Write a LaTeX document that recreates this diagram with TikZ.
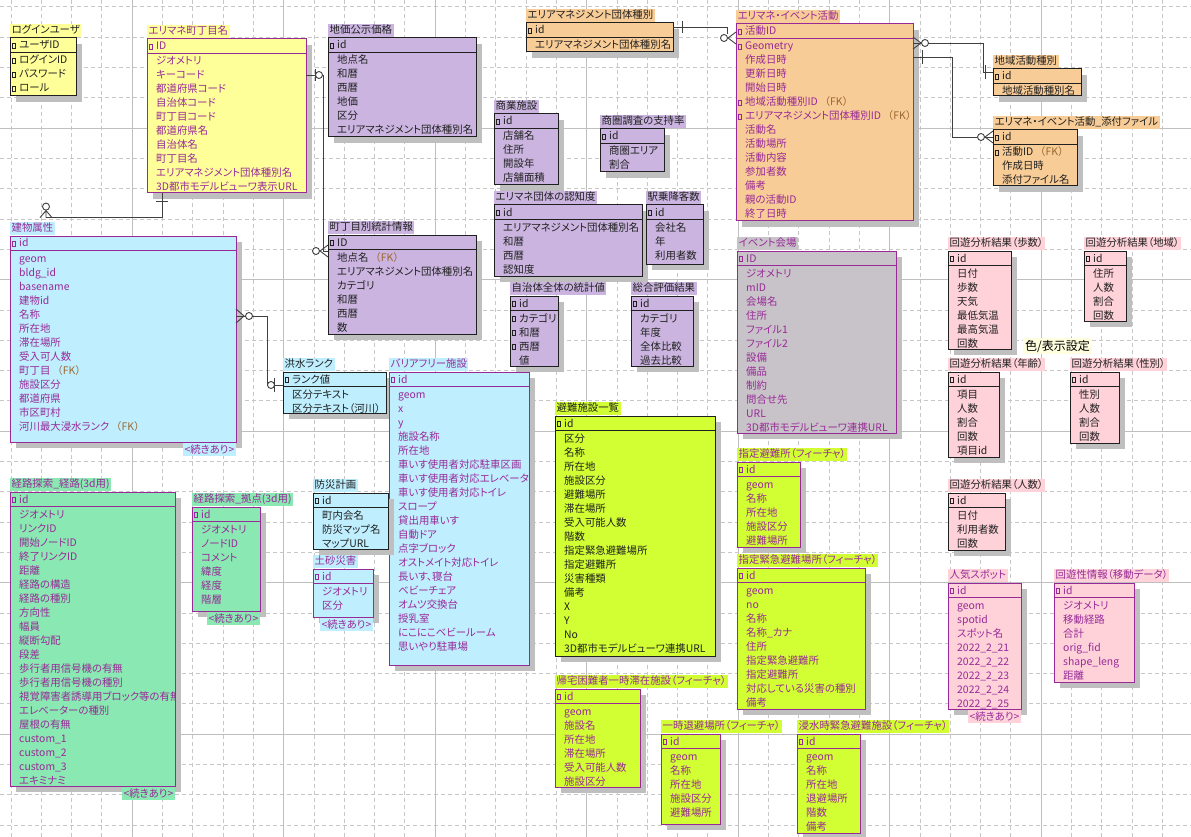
\documentclass[tikz,border=0pt]{standalone}
\usepackage{fontspec}
\setmainfont{Noto Sans CJK JP}[RawFeature=+palt]
\newfontfamily\jpfull{Noto Sans CJK JP}
\usetikzlibrary{calc,shadows}

\definecolor{eryellow}{HTML}{FFFF99}
\definecolor{erlav}{HTML}{CBB5E0}
\definecolor{erorange}{HTML}{F8CC96}
\definecolor{erblue}{HTML}{BFEFFF}
\definecolor{ergreen}{HTML}{8AE8B2}
\definecolor{erlime}{HTML}{D2FF33}
\definecolor{erpink}{HTML}{FFD2DA}
\definecolor{ergrey}{HTML}{C8C3C8}
\definecolor{erpurple}{HTML}{982A98}
\definecolor{erink}{HTML}{202020}
\definecolor{fkbrown}{HTML}{99662E}
\definecolor{notebg}{HTML}{FFFFE0}

\newcommand{\erfont}{\fontsize{10.4}{12}\selectfont}
\newcommand{\fk}{\hspace{2pt}{\jpfull\textcolor{fkbrown}{（FK）}}}

\newcommand{\erent}[9]{%
  \pgfmathsetmacro\erw{#4-#2}%
  \pgfmathsetmacro\erh{#5-#3}%
  \node[erbox, fill=#6, draw=#7, minimum width=\erw pt, minimum height=\erh pt] (#1) at (#2,#3) {};
  \draw[#7, line width=0.9pt] ($(#1.north west)+(0,14)$) -- ($(#1.north east)+(0,14)$);
  \begin{scope}
    \clip (#1.north west) rectangle (#1.south east);
    \foreach \k/\t [count=\i from 0] in {#9}{
      \pgfmathsetmacro\ry{\i==0 ? 11 : 12+14*\i}
      \node[ertext, text=#7] (#1-\i) at ($(#1.north west)+(9,\ry)$) {\t};
      \if\k k\draw[#7, line width=0.6pt] ($(#1.north west)+(2.5,\ry-6)$) rectangle ++(3,5);\fi
    }
  \end{scope}
  \node[ertitle, fill=#6, text=#7] (#1-t) at ($(#1.north west)+(0,-1)$) {#8};
}
\newcommand{\ermore}[3]{%
  \node[ertitle, anchor=north east, fill=#2, text=#3] (#1-m) at ($(#1.south east)+(0,1)$) {<続きあり>};
}

\begin{document}
\begin{tikzpicture}[x=1pt,y=-1pt]
  \tikzstyle{erbox}=[rectangle, inner sep=0pt, outer sep=0pt, anchor=north west, line width=1pt, general shadow={fill=gray!50, shadow xshift=6pt, shadow yshift=-6pt}]
  \tikzstyle{ertext}=[anchor=base west, inner sep=0pt, font=\erfont]
  \tikzstyle{ertitle}=[anchor=south west, inner xsep=1.5pt, inner ysep=0pt, text height=10pt, text depth=3pt, font=\erfont]
  \tikzstyle{rel}=[draw=black!75, line width=0.9pt]
  \tikzstyle{gridminor}=[draw=black!22, line width=0.6pt, dash pattern=on 4pt off 3pt]
  \tikzstyle{gridmajor}=[draw=black!25, line width=0.8pt]
  \useasboundingbox (0,0) rectangle (1191,837);
  \fill[white] (0,0) rectangle (1191,837);
  \foreach \i in {0,...,39} \draw[gridminor] ({10.8+30.3*\i},0) -- ++(0,837);
  \foreach \i in {0,...,27} \draw[gridminor] (0,{6.8+30.3*\i}) -- ++(1191,0);
  \foreach \i in {0,...,7} \draw[gridmajor] ({132+151.5*\i},0) -- ++(0,837);
  \foreach \i in {0,...,4} \draw[gridmajor] (0,{128+151.5*\i}) -- ++(1191,0);

  \erent{login}{10}{38}{76}{96}{eryellow}{erink}{ログインユーザ}{k/ユーザID,k/ログインID,k/パスワード,k/ロール}
  \erent{chome}{147}{39}{306}{193}{eryellow}{erpurple}{エリマネ町丁目名}{k/ID,n/ジオメトリ,n/キーコード,n/都道府県コード,n/自治体コード,n/町丁目コード,n/都道府県名,n/自治体名,n/町丁目名,n/エリアマネジメント団体種別名,n/3D都市モデルビューワ表示URL}
  \erent{chika}{328}{38}{476}{137}{erlav}{erink}{地価公示価格}{k/id,n/地点名,n/和暦,n/西暦,n/地価,n/区分,n/エリアマネジメント団体種別名}
  \erent{orgtype}{526}{23}{673}{52}{erorange}{erink}{エリアマネジメント団体種別}{k/id,n/エリアマネジメント団体種別名}
  \erent{event}{736}{24}{913}{221}{erorange}{erpurple}{エリマネ・イベント活動}{k/活動ID,k/Geometry,n/作成日時,n/更新日時,n/開始日時,k/地域活動種別ID\fk,k/エリアマネジメント団体種別ID\fk,n/活動名,n/活動場所,n/活動内容,n/参加者数,n/備考,n/親の活動ID,n/終了日時}
  \erent{areatype}{993}{69}{1081}{96}{erorange}{erink}{地域活動種別}{k/id,n/地域活動種別名}
  \erent{attach}{993}{130}{1077}{186}{erorange}{erink}{エリマネ・イベント活動\_添付ファイル}{k/id,k/活動ID\fk,n/作成日時,n/添付ファイル名}
  \erent{shop}{494}{114}{558}{185}{erlav}{erink}{商業施設}{k/id,n/店舗名,n/住所,n/開設年,n/店舗面積}
  \erent{shoken}{600}{129}{664}{172}{erlav}{erink}{商圏調査の支持率}{k/id,n/商圏エリア,n/割合}
  \erent{ninchi}{494}{205}{642}{276}{erlav}{erink}{エリマネ団体の認知度}{k/id,n/エリアマネジメント団体種別名,n/和暦,n/西暦,n/認知度}
  \erent{eki}{646}{205}{703}{264}{erlav}{erink}{駅乗降客数}{k/id,n/会社名,n/年,n/利用者数}
  \erent{stat}{328}{235}{476}{334}{erlav}{erink}{町丁目別統計情報}{k/ID,n/地点名\fk,n/エリアマネジメント団体種別名,n/カテゴリ,n/和暦,n/西暦,n/数}
  \erent{jichi}{510}{296}{558}{366}{erlav}{erink}{自治体全体の統計値}{k/id,k/カテゴリ,k/和暦,k/西暦,n/値}
  \erent{sogo}{631}{296}{693}{366}{erlav}{erink}{総合評価結果}{k/id,n/カテゴリ,n/年度,n/全体比較,n/過去比較}
  \erent{venue}{737}{251}{896}{433}{ergrey}{erpurple}{イベント会場}{k/ID,n/ジオメトリ,n/mID,n/会場名,n/住所,n/ファイル1,n/ファイル2,n/設備,n/備品,n/制約,n/問合せ先,n/URL,n/3D都市モデルビューワ連携URL}
  \erent{bldg}{10}{236}{236}{442}{erblue}{erpurple}{建物属性}{k/id,n/geom,n/bldg\_id,n/basename,n/建物id,n/名称,n/所在地,n/滞在場所,n/受入可人数,n/町丁目\fk,n/施設区分,n/都道府県,n/市区町村,n/河川最大浸水ランク\fk}
  \ermore{bldg}{erblue}{erpurple}
  \erent{flood}{283}{372}{386}{413}{erblue}{erink}{洪水ランク}{k/ランク値,n/区分テキスト,n/区分テキスト（河川）}
  \erent{bf}{389}{372}{529}{665}{erblue}{erpurple}{バリアフリー施設}{k/id,n/geom,n/x,n/y,n/施設名称,n/所在地,n/車いす使用者対応駐車区画,n/車いす使用者対応エレベーター,n/車いす使用者対応トイレ,n/スロープ,n/貸出用車いす,n/自動ドア,n/点字ブロック,n/オストメイト対応トイレ,n/長いす、寝台,n/ベビーチェア,n/オムツ交換台,n/授乳室,n/にこにこベビールーム,n/思いやり駐車場}
  \erent{hinan}{555}{416}{715}{656}{erlime}{erink}{避難施設一覧}{k/id,n/区分,n/名称,n/所在地,n/施設区分,n/避難場所,n/滞在場所,n/受入可能人数,n/階数,n/指定緊急避難場所,n/指定避難所,n/災害種類,n/備考,n/X,n/Y,n/No,n/3D都市モデルビューワ連携URL}
  \erent{bosai}{313}{493}{388}{549}{erblue}{erink}{防災計画}{k/id,n/町内会名,n/防災マップ名,n/マップURL}
  \erent{dosha}{313}{569}{373}{617}{erblue}{erpurple}{土砂災害}{k/id,n/ジオメトリ,n/区分}
  \ermore{dosha}{erblue}{erpurple}
  \erent{route}{10}{492}{175}{786}{ergreen}{erpurple}{経路探索\_経路(3d用)}{k/id,n/ジオメトリ,n/リンクID,n/開始ノードID,n/終了リンクID,n/距離,n/経路の構造,n/経路の種別,n/方向性,n/幅員,n/縦断勾配,n/段差,n/歩行者用信号機の有無,n/歩行者用信号機の種別,n/視覚障害者誘導用ブロック等の有無,n/エレベーターの種別,n/屋根の有無,n/custom\_1,n/custom\_2,n/custom\_3,n/エキミナミ}
  \ermore{route}{ergreen}{erpurple}
  \erent{rnode}{192}{507}{260}{611}{ergreen}{erpurple}{経路探索\_拠点(3d用)}{k/id,n/ジオメトリ,n/ノードID,n/コメント,n/緯度,n/経度,n/階層}
  \ermore{rnode}{ergreen}{erpurple}
  \erent{shitei}{737}{462}{800}{547}{erlime}{erpurple}{指定避難所（フィーチャ）}{k/id,n/geom,n/名称,n/所在地,n/施設区分,n/避難場所}
  \erent{kinkyu}{737}{568}{865}{709}{erlime}{erpurple}{指定緊急避難場所（フィーチャ）}{k/id,n/geom,n/no,n/名称,n/名称\_カナ,n/住所,n/指定緊急避難所,n/指定避難所,n/対応している災害の種別,n/備考}
  \erent{kitaku}{555}{689}{640}{787}{erlime}{erpurple}{帰宅困難者一時滞在施設（フィーチャ）}{k/id,n/geom,n/施設名,n/所在地,n/滞在場所,n/受入可能人数,n/施設区分}
  \erent{ichiji}{661}{734}{720}{824}{erlime}{erpurple}{一時退避場所（フィーチャ）}{k/id,n/geom,n/名称,n/所在地,n/施設区分,n/避難場所}
  \erent{shinsui}{797}{734}{860}{833}{erlime}{erpurple}{浸水時緊急避難施設（フィーチャ）}{k/id,n/geom,n/名称,n/所在地,n/退避場所,n/階数,n/備考}
  \erent{kaiho}{948}{251}{1011}{349}{erpink}{erink}{回遊分析結果（歩数）}{k/id,n/日付,n/歩数,n/天気,n/最低気温,n/最高気温,n/回数}
  \erent{kaichi}{1084}{251}{1126}{321}{erpink}{erink}{回遊分析結果（地域）}{k/id,n/住所,n/人数,n/割合,n/回数}
  \erent{kainen}{948}{372}{999}{457}{erpink}{erink}{回遊分析結果（年齢）}{k/id,n/項目,n/人数,n/割合,n/回数,n/項目id}
  \erent{kaisei}{1070}{372}{1119}{443}{erpink}{erink}{回遊分析結果（性別）}{k/id,n/性別,n/人数,n/割合,n/回数}
  \erent{kainin}{948}{493}{1005}{550}{erpink}{erink}{回遊分析結果（人数）}{k/id,n/日付,n/利用者数,n/回数}
  \erent{spot}{948}{583}{1021}{709}{erpink}{erpurple}{人気スポット}{k/id,n/geom,n/spotid,n/スポット名,n/2022\_2\_21,n/2022\_2\_22,n/2022\_2\_23,n/2022\_2\_24,n/2022\_2\_25}
  \ermore{spot}{erpink}{erpurple}
  \erent{kaiyu}{1054}{583}{1134}{682}{erpink}{erpurple}{回遊性情報（移動データ）}{k/id,n/ジオメトリ,n/移動経路,n/合計,n/orig\_fid,n/shape\_leng,n/距離}
  \node[anchor=north west, fill=notebg, inner xsep=2pt, inner ysep=0pt, text height=12pt, text depth=4pt, font=\fontsize{12}{14}\selectfont] (colorset) at (1023,338) {色/表示設定};

  \draw[rel] ($(chome.south west)+(15,0)$) coordinate (c1a) |- ($(bldg-t.north west)+(36,-4)$) coordinate (c1b);
  \draw[rel] ($(c1a)+(-6,8)$) -- ++(12,0);
  \draw[rel] ($(c1b)+(-6,0)$) -- ($(c1b)+(0,-7)$) -- ($(c1b)+(6,0)$) ($(c1b)+(0,-7)$) -- (c1b);
  \draw[rel, fill=white] ($(c1b)+(0,-11)$) circle (3.5);

  \draw[rel] ($(chome.north east)+(0,36)$) coordinate (c2a) -- ++(17,0) |- ($(stat.north west)+(0,16)$) coordinate (c2b);
  \draw[rel] ($(c2a)+(9,-6)$) -- ++(0,12);
  \draw[rel, fill=white] ($(c2a)+(13,0)$) circle (3.5);
  \draw[rel] ($(c2b)+(0,-6)$) -- ($(c2b)+(-8,0)$) -- ($(c2b)+(0,6)$);
  \draw[rel, fill=white] ($(c2b)+(-12,0)$) circle (3.5);

  \draw[rel] ($(bldg.north east)+(0,80)$) coordinate (c3a) -- ++(31,0) |- ($(flood.north west)+(0,13)$) coordinate (c3b);
  \draw[rel] ($(c3a)+(0,-7)$) -- ($(c3a)+(8,0)$) -- ($(c3a)+(0,7)$);
  \draw[rel, fill=white] ($(c3a)+(13,0)$) circle (3.5);
  \draw[rel, fill=white] ($(c3b)+(-12,0)$) circle (3.5);
  \draw[rel] ($(c3b)+(-8.5,-7)$) -- ++(0,14);

  \draw[rel] ($(orgtype.north east)+(0,4)$) coordinate (c4a) -| ($(event.north west)+(-9,10)$);
  \coordinate (c4b) at ($(event.north west)+(0,14)$);
  \draw[rel] ($(c4a)+(9,-6)$) -- ++(0,12);
  \draw[rel] ($(c4b)+(0,-6)$) -- ($(c4b)+(-8,0)$) -- ($(c4b)+(0,6)$);
  \draw[rel, fill=white] ($(c4b)+(-12,0)$) circle (3.5);

  \draw[rel] ($(event.north east)+(0,19)$) coordinate (c5a) -- ++(70,0) |- ($(areatype.north west)+(0,3)$) coordinate (c5b);
  \draw[rel] ($(c5a)+(0,-6)$) -- ($(c5a)+(8,0)$) -- ($(c5a)+(0,6)$);
  \draw[rel, fill=white] ($(c5a)+(12,0)$) circle (3.5);
  \draw[rel] ($(c5b)+(-8,-7)$) -- ++(0,14);

  \draw[rel] ($(event.north east)+(0,33)$) coordinate (c6a) -- ++(39,0) |- ($(attach.north west)+(0,7)$) coordinate (c6b);
  \draw[rel] ($(c6a)+(9,-7)$) -- ++(0,14);
  \draw[rel] ($(c6b)+(0,-6)$) -- ($(c6b)+(-8,0)$) -- ($(c6b)+(0,6)$);
  \draw[rel, fill=white] ($(c6b)+(-12,0)$) circle (3.5);
\end{tikzpicture}
\end{document}
